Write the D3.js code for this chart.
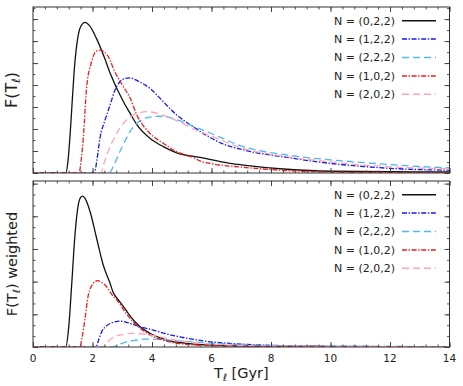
<!DOCTYPE html>
<html>
<head>
<meta charset="utf-8">
<script src="https://cdn.jsdelivr.net/npm/d3@7"></script>
<style>
  body { margin: 0; background: #fff; }
  svg { font-family: "DejaVu Sans", sans-serif; }
</style>
</head>
<body>
<div id="chart"></div>
<script>
// series: [T (Gyr), F]
const labels = ["N = (0,2,2)", "N = (1,2,2)", "N = (2,2,2)", "N = (1,0,2)", "N = (2,0,2)"]
const xTicks = [0, 2, 4, 6, 8, 10, 12, 14]

const top022 = [[0,0],[1.1,0],[1.18,0.6],[1.25,1.8],[1.32,3.3],[1.4,4.9],[1.5,6.1],[1.6,6.65],[1.75,6.85],[1.9,6.7],[2.14,6.1],[2.4,5.25],[2.59,4.55],[3.04,3.24],[3.26,2.72],[3.49,2.2],[3.93,1.58],[4.38,1.2],[4.83,0.92],[5.61,0.71],[6.62,0.44],[7.07,0.36],[8.53,0.17],[10,0.08],[12,0.06],[14,0.05]]
const top122 = [[0,0],[2.06,0],[2.15,0.6],[2.25,1.58],[2.42,2.4],[2.59,3.09],[2.75,3.75],[2.92,4.15],[3.1,4.3],[3.26,4.33],[3.5,4.2],[3.93,3.85],[4.38,3.24],[4.83,2.64],[5.39,2.1],[5.95,1.62],[6.34,1.35],[7.07,1.05],[8.53,0.71],[9.98,0.44],[11.16,0.29],[12.67,0.17],[14,0.13]]
const top222 = [[0,0],[2.57,0],[2.7,0.3],[2.92,0.97],[3.04,1.3],[3.26,1.88],[3.49,2.26],[3.7,2.45],[3.93,2.54],[4.27,2.58],[4.6,2.52],[4.83,2.42],[5.39,2.12],[5.95,1.82],[7.07,1.2],[8.53,0.82],[9.98,0.6],[11.16,0.47],[12.67,0.32],[14,0.23]]
const top102 = [[0,0],[1.55,0],[1.62,0.6],[1.69,1.58],[1.8,3.85],[1.97,5.06],[2.1,5.5],[2.25,5.59],[2.4,5.5],[2.59,5.14],[2.7,4.76],[3.04,3.92],[3.26,3.42],[3.49,2.64],[3.93,1.8],[4.38,1.35],[4.83,0.97],[5.39,0.7],[5.61,0.55],[5.95,0.44],[7.07,0.26],[8.53,0.11],[10,0.04],[12,0.02],[14,0.01]]
const top202 = [[0,0],[2.28,0],[2.4,0.5],[2.59,1.2],[2.7,1.5],[2.92,2.05],[3.15,2.41],[3.37,2.64],[3.6,2.75],[3.82,2.79],[4.1,2.74],[4.38,2.62],[4.83,2.38],[5.39,2.0],[5.95,1.7],[7.07,1.12],[8.53,0.74],[9.98,0.51],[11.16,0.36],[12.67,0.24],[14,0.19]]

const bot022 = [[0,0],[1.1,0],[1.2,0.6],[1.3,1.9],[1.41,3.42],[1.52,4.34],[1.6,4.58],[1.67,4.62],[1.75,4.55],[1.92,4.14],[2.14,3.32],[2.36,2.51],[2.59,1.95],[2.7,1.66],[2.8,1.52],[2.92,1.38],[3.15,1.1],[3.26,0.95],[3.6,0.62],[3.93,0.42],[4.49,0.21],[5.17,0.11],[6.62,0.04],[8,0.02],[14,0.005]]
const bot122 = [[0,0],[2.12,0],[2.2,0.2],[2.31,0.47],[2.45,0.63],[2.59,0.72],[2.75,0.77],[2.92,0.79],[3.2,0.74],[3.6,0.62],[4.04,0.52],[4.49,0.4],[5.17,0.27],[5.95,0.16],[6.62,0.11],[8,0.05],[10,0.02],[14,0.01]]
const bot222 = [[0,0],[2.68,0],[2.9,0.08],[3.15,0.16],[3.4,0.2],[3.71,0.24],[4.16,0.24],[4.83,0.19],[5.61,0.14],[6.62,0.09],[8,0.05],[10,0.03],[14,0.01]]
const bot102 = [[0,0],[1.57,0],[1.65,0.3],[1.75,0.88],[1.86,1.59],[2.03,1.95],[2.17,2.03],[2.3,1.98],[2.42,1.9],[2.7,1.55],[2.81,1.45],[3.15,1.0],[3.6,0.57],[4.04,0.32],[4.49,0.18],[5.17,0.08],[6.5,0.03],[14,0.005]]
const bot202 = [[0,0],[2.34,0],[2.5,0.15],[2.7,0.3],[3.0,0.38],[3.37,0.42],[3.93,0.37],[4.49,0.27],[5.17,0.16],[6.62,0.06],[8,0.03],[14,0.01]]

const styles = [
  { color: "#111111", dash: null },
  { color: "#1a1aee", dash: "5,1.6,1.4,1.6" },
  { color: "#4db8f5", dash: "7,4" },
  { color: "#ee1c1c", dash: "5,1.6,1.4,1.6" },
  { color: "#ffa6b0", dash: "7,4" }
]

const width = 463, height = 386
const left = 33, right = 449.5

const svg = d3.select("#chart").append("svg")
  .attr("width", width).attr("height", height)

const x = d3.scaleLinear().domain([0, 14]).range([left, right])

const panels = [
  { top: 7, bottom: 173, ymax: 7.55, yMinorStep: 0.5, series: [top022, top122, top222, top102, top202], ylab: "", ysize: 16, showX: false },
  { top: 181, bottom: 347, ymax: 5.08, yMinorStep: 1 / 3, series: [bot022, bot122, bot222, bot102, bot202], ylab: " weighted", ysize: 14.5, showX: true }
]

panels.forEach((p, pi) => {
  const y = d3.scaleLinear().domain([0, p.ymax]).range([p.bottom, p.top])
  const g = svg.append("g")

  const clipId = "clip" + pi
  svg.append("clipPath").attr("id", clipId)
    .append("rect").attr("x", left).attr("y", p.top)
    .attr("width", right - left).attr("height", p.bottom - p.top)

  const line = d3.line()
    .x(d => x(d[0]))
    .y(d => y(d[1]))
    .curve(d3.curveMonotoneX)

  // curves
  g.append("g").attr("clip-path", `url(#${clipId})`)
    .selectAll("path")
    .data(p.series)
    .join("path")
    .attr("d", line)
    .attr("fill", "none")
    .attr("stroke", (d, i) => styles[i].color)
    .attr("stroke-width", 1.3)
    .attr("stroke-dasharray", (d, i) => styles[i].dash)

  // ticks, all pointing inwards
  const xMinor = d3.range(0, 14.01, 0.4)
  const yMajor = d3.range(0, p.ymax, 1)
  const yMinor = d3.range(0, p.ymax, p.yMinorStep)
  const axes = [
    [() => d3.axisBottom(x), p.bottom, "x"],
    [() => d3.axisTop(x), p.top, "x"],
    [() => d3.axisLeft(y), left, "y"],
    [() => d3.axisRight(y), right, "y"]
  ]
  axes.forEach(([mk, pos, dir]) => {
    const tr = dir === "x" ? `translate(0,${pos})` : `translate(${pos},0)`
    const major = dir === "x" ? xTicks : yMajor
    const minor = dir === "x" ? xMinor : yMinor
    g.append("g").attr("transform", tr)
      .call(mk().tickValues(minor).tickSize(-2.5).tickFormat(""))
      .call(a => a.select(".domain").remove())
      .selectAll("line").attr("stroke", "#555")
    g.append("g").attr("transform", tr)
      .call(mk().tickValues(major).tickSize(-5).tickFormat(""))
      .call(a => a.select(".domain").remove())
      .selectAll("line").attr("stroke", "#444")
  })

  g.append("rect")
    .attr("x", left).attr("y", p.top)
    .attr("width", right - left).attr("height", p.bottom - p.top)
    .attr("fill", "none").attr("stroke", "#333").attr("stroke-width", 1)

  // legend
  const leg = g.append("g")
  labels.forEach((lab, i) => {
    const ly = p.top + 13.7 + i * 18.4
    leg.append("text")
      .attr("x", 395).attr("y", ly)
      .attr("dy", "0.36em")
      .attr("text-anchor", "end")
      .attr("font-size", 11)
      .attr("fill", "#222")
      .text(lab)
    leg.append("line")
      .attr("x1", 402).attr("x2", 436)
      .attr("y1", ly).attr("y2", ly)
      .attr("stroke", styles[i].color)
      .attr("stroke-width", 1.5)
      .attr("stroke-dasharray", styles[i].dash)
  })

  // y label
  const yl = g.append("text")
    .attr("transform", `translate(17,${(p.top + p.bottom) / 2}) rotate(-90)`)
    .attr("text-anchor", "middle")
    .attr("font-size", p.ysize)
    .attr("fill", "#222")
  yl.append("tspan").text("F(T")
  yl.append("tspan").attr("font-size", p.ysize * 0.7).attr("font-style", "italic").attr("dy", 3).text("ℓ")
  yl.append("tspan").attr("dy", -3).text(")" + p.ylab)

  if (p.showX) {
    g.append("g")
      .selectAll("text")
      .data(xTicks)
      .join("text")
      .attr("x", d => x(d))
      .attr("y", 362)
      .attr("text-anchor", "middle")
      .attr("font-size", 10.5)
      .attr("fill", "#222")
      .text(d => d)
  }
})

// x label
const xl = svg.append("text")
  .attr("x", (left + right) / 2).attr("y", 378)
  .attr("text-anchor", "middle")
  .attr("font-size", 14.5)
  .attr("fill", "#222")
xl.append("tspan").text("T")
xl.append("tspan").attr("font-size", 10).attr("font-style", "italic").attr("dy", 3).text("ℓ")
xl.append("tspan").attr("dy", -3).text(" [Gyr]")
</script>
</body>
</html>
